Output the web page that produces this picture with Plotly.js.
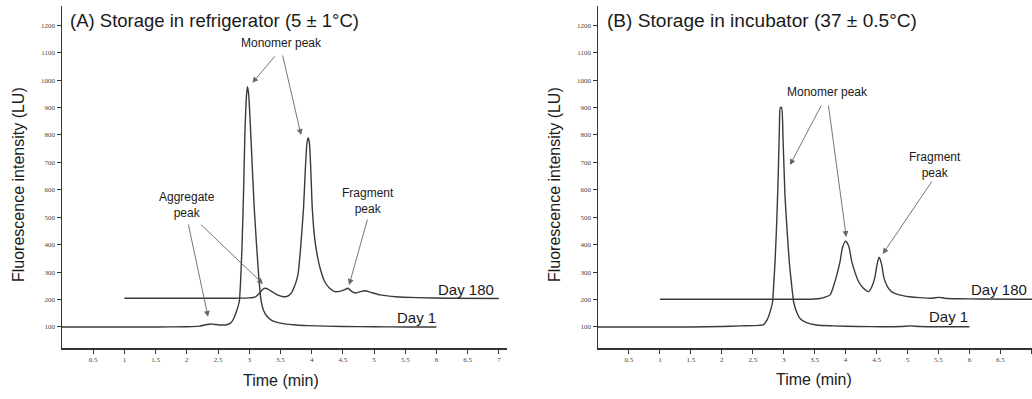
<!DOCTYPE html>
<html>
<head>
<meta charset="utf-8">
<script src="https://cdn.plot.ly/plotly-3.0.1.min.js"></script>
<style>html,body{margin:0;padding:0;background:#fff;}#chart{width:1032px;height:399px;}</style>
</head>
<body>
<div id="chart"></div>
<script>
// Panel A: refrigerator
const timeA_day1 = [0, 0.5, 1, 1.5, 2, 2.2, 2.3, 2.38, 2.46, 2.56, 2.64, 2.7, 2.75, 2.8, 2.84, 2.86, 2.885, 2.91, 2.93, 2.955, 2.97, 2.99, 3.03, 3.08, 3.15, 3.19, 3.23, 3.28, 3.36, 3.52, 3.7, 3.94, 4.5, 5, 5.5, 6];
const intA_day1  = [100, 100, 100, 100, 101, 103, 108, 111, 109, 107, 108, 114, 130, 160, 192, 260, 400, 600, 800, 940, 976, 950, 775, 534, 290, 195, 160, 140, 124, 113, 108, 105, 102, 101, 100, 100];

const timeA_day180 = [1, 1.5, 2, 2.5, 2.8, 3.0, 3.1, 3.16, 3.21, 3.25, 3.3, 3.37, 3.45, 3.53, 3.6, 3.66, 3.72, 3.78, 3.82, 3.85, 3.87, 3.9, 3.925, 3.945, 3.965, 3.99, 4.01, 4.05, 4.11, 4.16, 4.21, 4.28, 4.37, 4.45, 4.52, 4.58, 4.64, 4.7, 4.78, 4.86, 4.95, 5.1, 5.35, 5.7, 6.2, 7];
const intA_day180  = [205, 205, 205, 205, 205, 206, 210, 222, 236, 241, 238, 228, 217, 211, 211, 220, 245, 290, 380, 470, 534, 680, 770, 790, 770, 650, 534, 420, 338, 295, 265, 243, 229, 230, 235, 241, 230, 224, 229, 232, 226, 217, 210, 207, 205, 204];

// Panel B: incubator
const timeB_day1 = [0, 0.5, 1, 1.5, 2, 2.3, 2.5, 2.6, 2.67, 2.73, 2.78, 2.82, 2.84, 2.86, 2.885, 2.91, 2.93, 2.945, 2.965, 2.99, 3.02, 3.055, 3.09, 3.125, 3.16, 3.2, 3.26, 3.35, 3.53, 3.8, 4.2, 4.6, 4.9, 5.05, 5.2, 5.6, 6];
const intB_day1  = [100, 100, 100, 100, 102, 104, 105, 106, 108, 125, 155, 192, 260, 338, 470, 640, 820, 900, 900, 780, 581, 450, 338, 260, 192, 160, 132, 118, 107, 104, 102, 101, 102, 104, 102, 101, 101];

const timeB_day180 = [1, 1.5, 2, 2.5, 3, 3.3, 3.5, 3.59, 3.67, 3.75, 3.82, 3.87, 3.91, 3.95, 4.0, 4.05, 4.1, 4.15, 4.21, 4.28, 4.37, 4.42, 4.47, 4.51, 4.54, 4.58, 4.62, 4.68, 4.74, 4.85, 5.04, 5.2, 5.4, 5.5, 5.6, 5.8, 6.2, 7.02];
const intB_day180  = [201, 201, 201, 201, 201, 201, 202, 204, 209, 217, 260, 300, 338, 390, 413, 395, 338, 300, 265, 243, 229, 245, 278, 330, 354, 330, 278, 245, 229, 218, 210, 207, 205, 208, 205, 203, 202, 201];

const xTicks = [0.5, 1, 1.5, 2, 2.5, 3, 3.5, 4, 4.5, 5, 5.5, 6, 6.5, 7];
const xTickText = ["0.5", "1", "1.5", "2", "2.5", "3", "3.5", "4", "4.5", "5", "5.5", "6", "6.5", "7"];
const yTicks = [100, 200, 300, 400, 500, 600, 700, 800, 900, 1000, 1100, 1200];

const panelTitles = ["(A) Storage in refrigerator (5 ± 1°C)", "(B) Storage in incubator (37 ± 0.5°C)"];
const xTitle = "Time (min)";
const yTitle = "Fluorescence intensity (LU)";

const W = 1032, H = 399;
const px = v => v / W;
const py = v => 1 - v / H;

const lineStyle = {color: '#3a3a3a', width: 1.4, shape: 'spline', smoothing: 0.6};

const traces = [
  {x: timeA_day1, y: intA_day1, xaxis: 'x', yaxis: 'y', mode: 'lines', line: lineStyle, name: 'Day 1', hoverinfo: 'skip'},
  {x: timeA_day180, y: intA_day180, xaxis: 'x', yaxis: 'y', mode: 'lines', line: lineStyle, name: 'Day 180', hoverinfo: 'skip'},
  {x: timeB_day1, y: intB_day1, xaxis: 'x2', yaxis: 'y2', mode: 'lines', line: lineStyle, name: 'Day 1', hoverinfo: 'skip'},
  {x: timeB_day180, y: intB_day180, xaxis: 'x2', yaxis: 'y2', mode: 'lines', line: lineStyle, name: 'Day 180', hoverinfo: 'skip'}
];

const tickFont = {family: 'Liberation Serif, serif', size: 7, color: '#444'};
const axBase = {
  showline: true, linecolor: '#333', linewidth: 1.5,
  ticks: 'outside', ticklen: 4, tickcolor: '#333', tickwidth: 1,
  showgrid: false, zeroline: false, tickfont: tickFont, fixedrange: true
};

const sans = 'Liberation Sans, Arial, sans-serif';
const txtColor = '#1a1a1a';

function label(text, x, y, xr, yr, size, anchor) {
  return {text: text, x: x, y: y, xref: xr, yref: yr, showarrow: false,
          font: {family: sans, size: size, color: txtColor},
          xanchor: anchor || 'center', yanchor: 'middle', align: 'center'};
}
function arrow(tx, ty, hx, hy, xr, yr) {
  return {text: '', x: hx, y: hy, ax: tx, ay: ty, xref: xr, yref: yr, axref: xr, ayref: yr,
          showarrow: true, arrowhead: 2, arrowsize: 1.3, arrowwidth: 0.9, arrowcolor: '#666',
          standoff: 0, startstandoff: 0};
}

const annotations = [
  // panel titles
  label(panelTitles[0], px(68), py(21), 'paper', 'paper', 18.5, 'left'),
  label(panelTitles[1], px(605), py(21), 'paper', 'paper', 19.1, 'left'),
  // axis titles
  label(xTitle, px(281), py(380), 'paper', 'paper', 16),
  label(xTitle, px(814), py(379), 'paper', 'paper', 16),
  Object.assign(label(yTitle, px(19), py(185), 'paper', 'paper', 16), {textangle: -90}),
  Object.assign(label(yTitle, px(555), py(185), 'paper', 'paper', 16), {textangle: -90}),
  // day labels
  label('Day 180', 5.99, 238, 'x', 'y', 15, 'left'),
  label('Day 1', 5.34, 136, 'x', 'y', 15, 'left'),
  label('Day 180', 5.99, 238, 'x2', 'y2', 15, 'left'),
  label('Day 1', 5.31, 137, 'x2', 'y2', 15, 'left'),
  // peak labels A
  label('Aggregate<br>peak', 2.00, 545, 'x', 'y', 12),
  label('Monomer peak', 3.51, 1135, 'x', 'y', 12),
  label('Fragment<br>peak', 4.90, 561, 'x', 'y', 12),
  // peak labels B
  label('Monomer peak', 3.71, 957, 'x2', 'y2', 12),
  label('Fragment<br>peak', 5.44, 692, 'x2', 'y2', 12),
  // arrows A
  arrow(2.02, 479, 2.34, 137, 'x', 'y'),
  arrow(2.20, 479, 3.22, 257, 'x', 'y'),
  arrow(3.43, 1092, 3.05, 990, 'x', 'y'),
  arrow(3.53, 1095, 3.83, 800, 'x', 'y'),
  arrow(4.90, 497, 4.60, 253, 'x', 'y'),
  // arrows B
  arrow(3.62, 913, 3.10, 690, 'x2', 'y2'),
  arrow(3.72, 913, 4.01, 428, 'x2', 'y2'),
  arrow(5.41, 636, 4.60, 366, 'x2', 'y2')
];

const yRange = [23.4, 1270];
const layout = {
  width: W, height: H,
  margin: {l: 0, r: 0, t: 0, b: 0, pad: 0},
  paper_bgcolor: '#fff', plot_bgcolor: '#fff',
  showlegend: false,
  xaxis: Object.assign({}, axBase, {domain: [px(62), px(507)], range: [0, 7.13], tickvals: xTicks, ticktext: xTickText, anchor: 'y'}),
  yaxis: Object.assign({}, axBase, {domain: [1 - 348/H, 1 - 6/H], range: yRange, tickvals: yTicks, anchor: 'x'}),
  xaxis2: Object.assign({}, axBase, {domain: [px(598), 1], range: [0, 7.011], tickvals: xTicks, ticktext: xTickText, anchor: 'y2'}),
  yaxis2: Object.assign({}, axBase, {domain: [1 - 348/H, 1 - 6/H], range: yRange, tickvals: yTicks, anchor: 'x2'}),
  annotations: annotations
};

Plotly.newPlot('chart', traces, layout, {displayModeBar: false, staticPlot: true});
</script>
</body>
</html>
